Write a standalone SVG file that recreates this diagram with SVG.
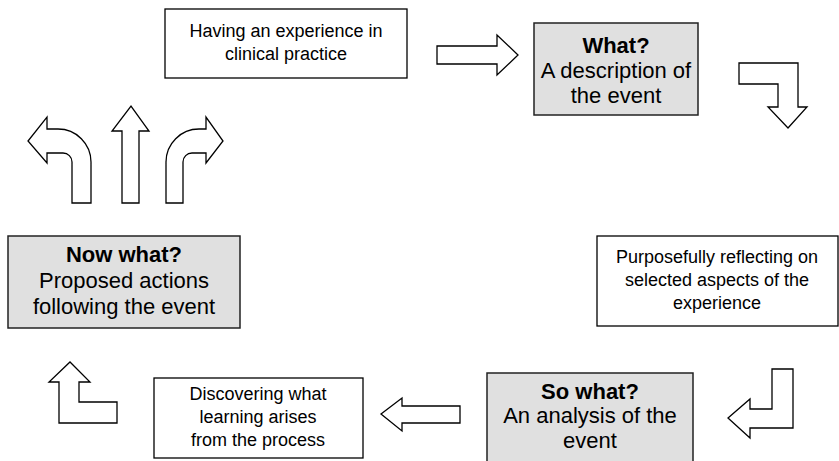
<svg xmlns="http://www.w3.org/2000/svg" width="839" height="461" viewBox="0 0 839 461">
<style>
.box{fill:#ffffff;stroke:#000;stroke-width:1.3}
.gbox{fill:#e0e0e0;stroke:#222;stroke-width:1.5}
.arr{fill:#ffffff;stroke:#000;stroke-width:1.3;stroke-linejoin:miter}
.t{font-family:"Liberation Sans",Arial,sans-serif;font-size:18px;fill:#000;text-anchor:middle}
.g{font-family:"Liberation Sans",Arial,sans-serif;font-size:22px;fill:#000;text-anchor:middle}
.b{font-weight:bold}
</style>
<rect width="839" height="461" fill="#fff"/>
<g id="node-experience">
<rect class="box" x="165" y="9" width="242" height="69"/>
<text class="t" x="286" y="37">Having an experience in</text>
<text class="t" x="286" y="60">clinical practice</text>
</g>
<g id="node-what">
<rect class="gbox" x="534" y="23" width="164" height="92"/>
<text class="g b" x="616" y="53">What?</text>
<text class="g" x="616" y="78">A description of</text>
<text class="g" x="616" y="103">the event</text>
</g>
<g id="node-reflecting">
<rect class="box" x="597" y="236" width="241" height="90"/>
<text class="t" x="717" y="263">Purposefully reflecting on</text>
<text class="t" x="717" y="286">selected aspects of the</text>
<text class="t" x="717" y="309">experience</text>
</g>
<g id="node-sowhat">
<rect class="gbox" x="487" y="373" width="206" height="95"/>
<text class="g b" x="590" y="399">So what?</text>
<text class="g" x="590" y="423">An analysis of the</text>
<text class="g" x="590" y="448">event</text>
</g>
<g id="node-discovering">
<rect class="box" x="154" y="378" width="209" height="80"/>
<text class="t" x="258" y="400">Discovering what</text>
<text class="t" x="258" y="423">learning arises</text>
<text class="t" x="258" y="446">from the process</text>
</g>
<g id="node-nowwhat">
<rect class="gbox" x="8" y="236" width="232" height="92"/>
<text class="g b" x="124" y="262">Now what?</text>
<text class="g" x="124" y="288">Proposed actions</text>
<text class="g" x="124" y="314">following the event</text>
</g>
<g id="connectors">
<path class="arr" d="M437,46 H497 V35 L518,55 L497,75 V64 H437 Z"/>
<path class="arr" d="M739,63 H798 V107 H807 L788,128 L768,107 H778 V84 H739 Z"/>
<path class="arr" d="M772,369 H793 V428 H750 V438 L728,418 L750,399 V409 H772 Z"/>
<path class="arr" d="M460,406 V423 H402 V431 L381,414 L402,398 V406 Z"/>
<path class="arr" d="M117,423 H59 V382 H49 L70,362 L90,382 H79 V402 H117 Z"/>
<path class="arr" d="M72,203 V162 A9,9 0 0 0 63,153 H47 V163 L28,141 L47,117 V129 H58 A33,33 0 0 1 91,162 V203 Z"/>
<path class="arr" d="M122,203 V131 H112 L131,106 L149,131 H139 V203 Z"/>
<path class="arr" d="M166,203 V162 A33,33 0 0 1 199,129 H206 V117 L223,141 L206,163 V153 H192 A9,9 0 0 0 183,162 V203 Z"/>
</g>
</svg>
